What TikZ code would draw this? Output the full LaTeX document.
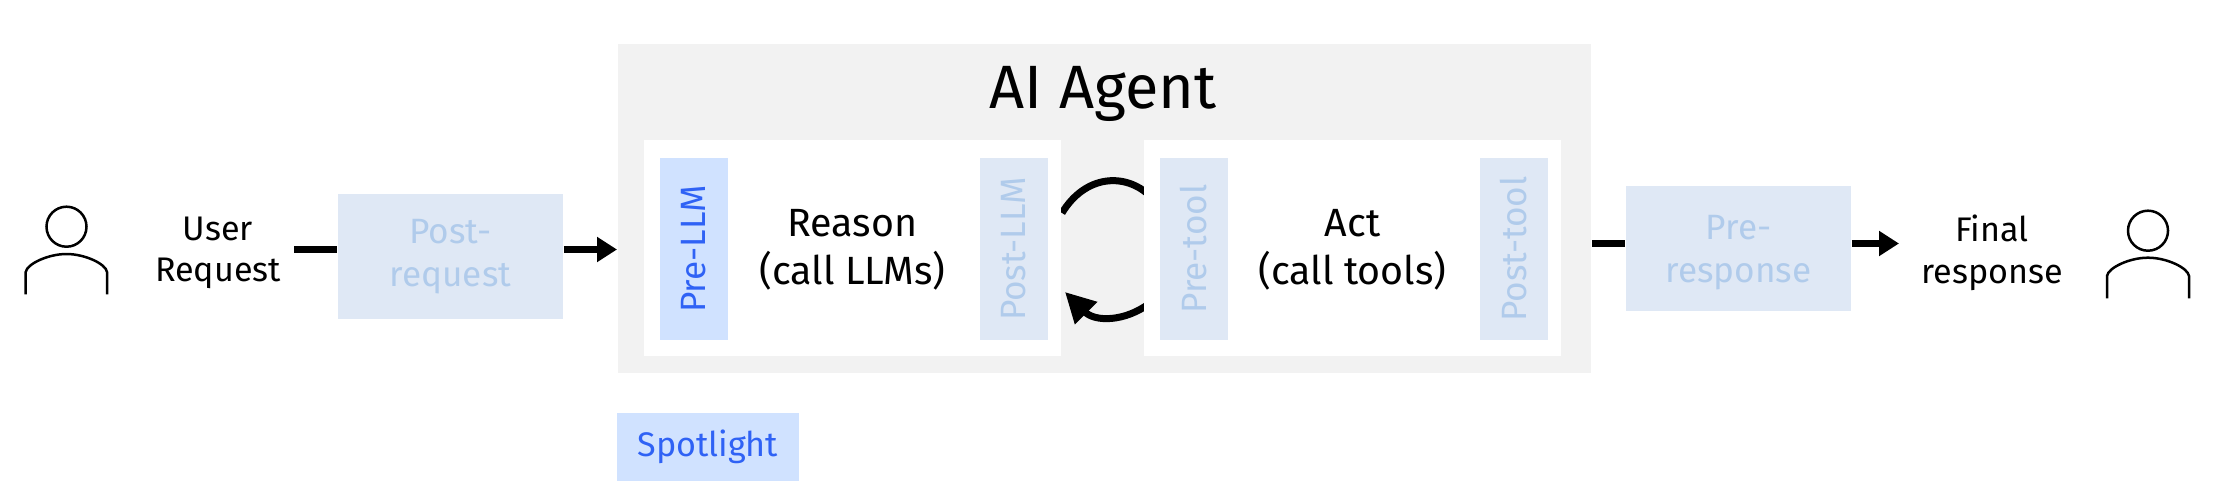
\documentclass[tikz,border=0pt]{standalone}
\usepackage{fontspec}
\setmainfont{Fira Sans}
\usetikzlibrary{positioning,arrows.meta}
\definecolor{agentgray}{HTML}{F2F2F2}
\definecolor{fadefill}{HTML}{DFE8F5}
\definecolor{fadetext}{HTML}{B0CBEB}
\definecolor{spotfill}{HTML}{D0E2FF}
\definecolor{spottext}{HTML}{2F62F5}

\begin{document}
\begin{tikzpicture}[
x=0.01cm,y=-0.01cm,
plain/.style={
  draw=none,
  fill=none,
  align=center,
  inner sep=0pt,
  font=\fontsize{9.7}{11.8}\selectfont
  },
hook/.style={
  plain,
  minimum width=2.25cm,
  font=\fontsize{10}{12.2}\selectfont,
  fill=fadefill,
  text=fadetext
  },
side/.style={
  plain,
  rotate=90,
  minimum width=1.82cm,
  minimum height=0.68cm,
  font=\fontsize{10}{12}\selectfont,
  fill=fadefill,
  text=fadetext
  },
lit/.style={
  fill=spotfill,
  text=spottext
  },
phase/.style={
  plain,
  fill=white,
  minimum width=4.17cm,
  minimum height=2.16cm
  },
task/.style={
  plain,
  font=\fontsize{11.2}{13.7}\selectfont
  },
thick bar/.style={
  line width=0.07cm
  },
pipe/.style={
  thick bar,
  -{Triangle[length=0.2cm,width=0.24cm]}
  },
loopback/.style={
  thick bar,
  -{Triangle[length=0.3cm,width=0.3cm]}
  },
head/.style={
  draw,
  circle,
  line width=0.025cm,
  minimum size=0.4cm,
  inner sep=0pt
  },
body/.style={
  line width=0.025cm
  }
]

% agent frame and the loop, the boxes cover the ends of the arcs
\node[plain,fill=agentgray,minimum width=9.73cm,minimum height=3.29cm] (agent) at (1104.5,208.5) {};
\node[plain,font=\fontsize{17.4}{20}\selectfont] (title) at (1103,94) {AI Agent};

\coordinate (loopa) at (1062,213);
\coordinate (loopb) at (1150,196);
\coordinate (loopc) at (1150,303);
\coordinate (loopd) at (1065,292);
\draw[thick bar] (loopa) .. controls (1085,175) and (1125,172) .. (loopb);
\draw[loopback] (loopc) .. controls (1125,322) and (1095,322) .. (loopd);

\node[phase] (reason) at (852.5,248) {};
\node[phase] (act) at (1352.5,248) {};
\node[task] (reasontext) at (852.5,250) {Reason\\(call LLMs)};
\node[task] (acttext) at (1352.5,250) {Act\\(call tools)};

\node[side,lit] (prellm) at (694,249) {Pre-LLM};
\node[side] (postllm) at (1014,249) {Post-LLM};
\node[side] (pretool) at (1194,249) {Pre-tool};
\node[side] (posttool) at (1514,249) {Post-tool};

% request side
\node[head] (userhead) at (66.5,226.7) {};
\draw[body] (25.7,294.3) -- (25.7,272) .. controls (27,264) and (48,254) .. (66.5,254) .. controls (85,254) and (106,264) .. (107,272) -- (107,294.3);
\node[plain] (userlabel) at (218,253) {User\\Request};
\node[hook,minimum height=1.25cm] (postreq) at (450.5,256.3) {Post-\\request};
\coordinate (reqstart) at (294,249.5);
\draw[thick bar] (reqstart) -- (postreq.west |- reqstart);
\draw[pipe] (postreq.east |- reqstart) -- (agent.west |- reqstart);

% response side
\node[hook,minimum height=1.25cm] (preresp) at (1738.5,248.5) {};
\node[hook,fill=none] (preresptext) at (1738.5,252.5) {Pre-\\response};
\node[plain] (finallabel) at (1992,253) {Final\\response};
\node[head] (finalhead) at (2148,230.7) {};
\draw[body] (2107,298.3) -- (2107,276) .. controls (2108,268) and (2129,257.7) .. (2148,257.7) .. controls (2167,257.7) and (2188,268) .. (2189,276) -- (2189,298.3);
\coordinate (respstart) at (1592,243.5);
\coordinate (respend) at (1899,243.5);
\draw[thick bar] (respstart) -- (preresp.west |- respstart);
\draw[pipe] (preresp.east |- respstart) -- (respend);

% legend
\node[plain,lit,minimum width=1.82cm,minimum height=0.68cm] (spot) at (708,447) {Spotlight};

\useasboundingbox (0,0) rectangle (2218,500);
\end{tikzpicture}
\end{document}
